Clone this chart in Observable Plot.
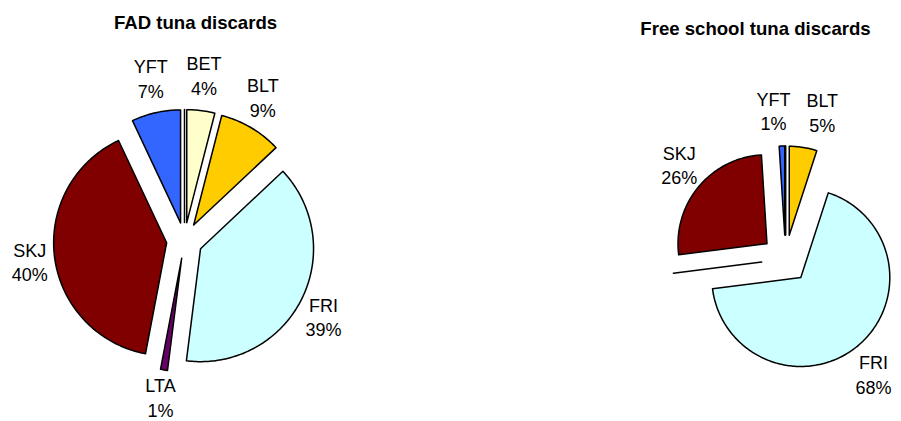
<!DOCTYPE html>
<html><head><meta charset="utf-8">
<script src="https://cdn.jsdelivr.net/npm/d3@7"></script>
<script src="https://cdn.jsdelivr.net/npm/@observablehq/plot@0.6"></script>
<style>body{margin:0;background:#fff}</style>
</head><body><div id="chart"></div>
<script>
// ---- data ----
const species = ["ALB", "BET", "BLT", "FRI", "LTA", "SKJ", "YFT"];
const fadShare = [0, 4, 9, 39, 1, 40, 7];
const freeShare = [0, 0, 5, 68, 0, 26, 1];
const titles = ["FAD tuna discards", "Free school tuna discards"];
const speciesColors = ["#FFFFFF", "#FFFFCC", "#FFCC00", "#CCFFFF", "#660066", "#800000", "#3366FF"];

// ---- layout ----
const W = 901, H = 421;
const FONT = "Liberation Sans, Arial, Helvetica, sans-serif";
const FS = 18, TFS = 18.6, LH = 1.36, GAP = 7, HH = 29, PAD = 16;
const layouts = [
  {values: fadShare, title: titles[0], cx: 184, cy: 240, r: 113, explode: 18, tx: 195, ty: 23},
  {values: freeShare, title: titles[1], cx: 785, cy: 258.5, r: 89, explode: 24, tx: 755, ty: 29}
];

const ctx = document.createElement("canvas").getContext("2d");
ctx.font = `${FS}px ${FONT}`;

const slices = [], zeroSlices = [], labels = [], heads = [];
layouts.forEach((L, pi) => {
  heads.push({x: L.tx, y: L.ty, text: L.title});
  const arcs = d3.pie().sort(null).value(d => d.v)(species.map((s, i) => ({s, v: L.values[i]})));
  const chartLabels = [];
  arcs.forEach(a => {
    const mid = (a.startAngle + a.endAngle) / 2;
    const ux = Math.sin(mid), uy = -Math.cos(mid);
    const ox = L.cx + ux * L.explode, oy = L.cy + uy * L.explode;
    const key = pi + "-" + a.data.s;
    const n = Math.max(2, Math.ceil((a.endAngle - a.startAngle) / (Math.PI / 180)));
    const pts = [{x: ox, y: oy}];
    for (let k = 0; k <= n; k++) {
      const t = a.startAngle + (a.endAngle - a.startAngle) * k / n;
      pts.push({x: ox + L.r * Math.sin(t), y: oy - L.r * Math.cos(t)});
    }
    pts.push({x: ox, y: oy});
    const target = a.data.v === 0 ? zeroSlices : slices;
    pts.forEach(p => target.push({...p, key, species: a.data.s}));
    if (a.data.v > 0) {
      const pct = a.data.v + "%";
      const hw = Math.max(ctx.measureText(a.data.s).width, ctx.measureText(pct).width) / 2;
      const R = L.r + L.explode + GAP;
      chartLabels.push({
        x: L.cx + ux * R + ux * hw,
        y: L.cy + uy * R + uy * HH,
        hw, text: a.data.s + "\n" + pct
      });
    }
  });
  // simple horizontal collision resolution
  for (let it = 0; it < 5; it++) {
    chartLabels.sort((p, q) => p.x - q.x);
    for (let i = 0; i < chartLabels.length; i++) for (let j = i + 1; j < chartLabels.length; j++) {
      const A = chartLabels[i], B = chartLabels[j];
      const need = A.hw + B.hw + PAD;
      if (Math.abs(A.y - B.y) < 2 * HH && B.x - A.x < need) {
        const push = need - (B.x - A.x);
        A.x -= push / 3; B.x += push * 2 / 3;
      }
    }
  }
  // keep labels inside the picture
  chartLabels.forEach(l => {
    l.y = Math.max(HH, Math.min(H - 25, l.y));
    l.x = Math.max(l.hw + 2, Math.min(W - l.hw - 1, l.x));
  });
  labels.push(...chartLabels);
});

const chart = Plot.plot({
  width: W, height: H, margin: 0,
  x: {domain: [0, W], range: [0, W], axis: null},
  y: {domain: [0, H], range: [0, H], axis: null},
  color: {domain: species, range: speciesColors},
  style: {fontFamily: FONT, background: "white", color: "black"},
  marks: [
    Plot.line(slices, {x: "x", y: "y", z: "key", fill: "species", stroke: "black", strokeWidth: 1.5, strokeLinejoin: "round"}),
    Plot.line(zeroSlices, {x: "x", y: "y", z: "key", fill: "species", stroke: "black", strokeWidth: 1.5, strokeLinejoin: "round"}),
    Plot.text(labels, {x: "x", y: "y", text: "text", fontSize: FS, lineHeight: LH, fill: "black"}),
    Plot.text(heads, {x: "x", y: "y", text: "text", fontSize: TFS, fontWeight: "bold", fill: "black"})
  ]
});
document.getElementById("chart").appendChild(chart);
</script>
</body></html>
